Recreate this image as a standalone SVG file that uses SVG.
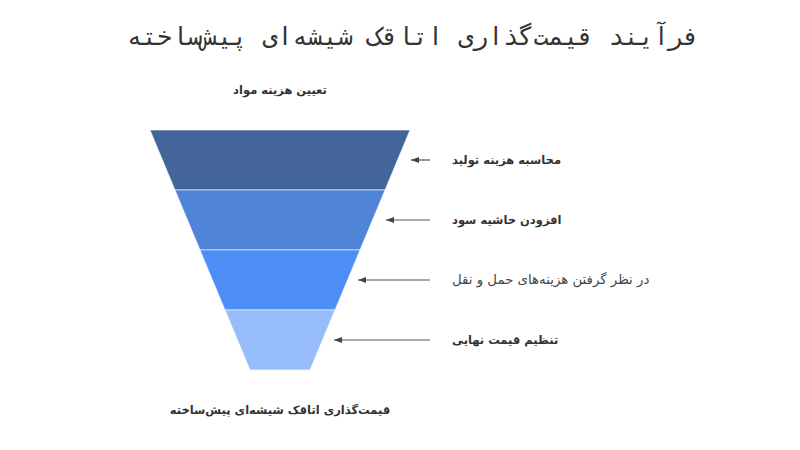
<svg xmlns="http://www.w3.org/2000/svg" width="800" height="450" viewBox="0 0 800 450">
<defs>
<marker id="ah" markerWidth="8" markerHeight="6" refX="8" refY="3" orient="auto" markerUnits="userSpaceOnUse">
<path d="M0,0 L8,3 L0,6 Z" fill="#444"/>
</marker>
<style>
.t{font-family:"DejaVu Sans Mono",monospace;font-size:25px;fill:#333;letter-spacing:7px}
.lb{font-family:"DejaVu Sans",sans-serif;font-size:11.5px;font-weight:bold;fill:#333}
.lr{font-family:"DejaVu Sans",sans-serif;font-size:13.3px;fill:#444}
.seg{stroke:#ffffff;stroke-width:0.6}
.conn{stroke:#555;stroke-width:1.2;fill:none}
</style>
</defs>
<rect width="800" height="450" fill="#ffffff"/>
<text class="t" x="413" y="45" text-anchor="middle">فرآیند قیمت‌گذاری اتاقک شیشه‌ای پیش‌ساخته</text>
<text class="lb" x="280" y="94" text-anchor="middle">تعیین هزینه مواد</text>
<g id="layer1"><polygon class="seg" points="150,130 410,130 385,190 175,190" fill="#436599"/></g>
<g id="layer2"><polygon class="seg" points="175,190 385,190 360,250 200,250" fill="#4f84d8"/></g>
<g id="layer3"><polygon class="seg" points="200,250 360,250 335,310 225,310" fill="#4c8ef5"/></g>
<g id="layer4"><polygon class="seg" points="225,310 335,310 310,370 250,370" fill="#98bdfb"/></g>
<g id="connectors">
<line class="conn" x1="430" y1="160" x2="411" y2="160" marker-end="url(#ah)"/>
<line class="conn" x1="430" y1="220" x2="386" y2="220" marker-end="url(#ah)"/>
<line class="conn" x1="430" y1="280" x2="358" y2="280" marker-end="url(#ah)"/>
<line class="conn" x1="430" y1="340" x2="334" y2="340" marker-end="url(#ah)"/>
</g>
<g id="label1"><text class="lb" x="452" y="164">محاسبه هزینه تولید</text></g>
<g id="label2"><text class="lb" x="452" y="224">افزودن حاشیه سود</text></g>
<g id="label3"><text class="lr" x="452" y="284">در نظر گرفتن هزینه‌های حمل و نقل</text></g>
<g id="label4"><text class="lb" x="452" y="344">تنظیم قیمت نهایی</text></g>
<text class="lb" x="280" y="414" text-anchor="middle">قیمت‌گذاری اتاقک شیشه‌ای پیش‌ساخته</text>
</svg>
